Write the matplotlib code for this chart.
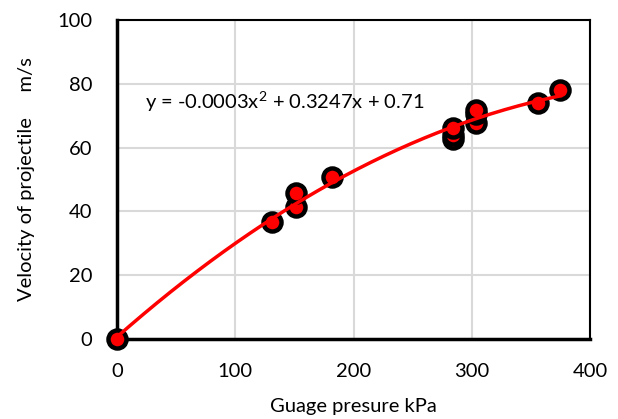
import numpy as np
import matplotlib
matplotlib.use("Agg")
import matplotlib.pyplot as plt
from matplotlib.ticker import MultipleLocator

# data
pressure = [0, 131, 151, 151, 182, 284, 284, 284, 304, 304, 304, 356, 375]
velocity = [0, 36.7, 41.4, 45.8, 50.8, 62.8, 64.0, 66.3, 67.6, 70.5, 71.8, 74.0, 78.1]
eq_text = "y = -0.0003x$^2$ + 0.3247x + 0.71"

plt.rcParams['font.family'] = ['Lato', 'DejaVu Sans']
plt.rcParams['mathtext.fontset'] = 'custom'
plt.rcParams['mathtext.rm'] = 'Lato'

fs = 14.5

fig = plt.figure(figsize=(6.18, 4.19), dpi=100)
ax = fig.add_axes([117/618, 1 - 339/419, (590 - 117)/618, (339 - 20)/419])

# quadratic trend line fitted to the points
coef = np.polyfit(pressure, velocity, 2)
xf = np.linspace(0, max(pressure), 200)
ax.plot(xf, np.polyval(coef, xf), color='red', linewidth=2.5, zorder=4,
        clip_on=False)

ax.plot(pressure, velocity, linestyle='none', marker='o', markersize=13,
        markerfacecolor='red', markeredgecolor='black', markeredgewidth=3.2,
        zorder=3, clip_on=False)

ax.set_xlim(0, 400)
ax.set_ylim(0, 100)
ax.xaxis.set_major_locator(MultipleLocator(100))
ax.yaxis.set_major_locator(MultipleLocator(20))
ax.grid(True, color='#d9d9d9', linewidth=1.5)
ax.set_axisbelow(True)

for s in ax.spines.values():
    s.set_linewidth(1.5)
    s.set_color('black')
    s.set_zorder(2)
ax.spines['left'].set_linewidth(2.5)
ax.spines['bottom'].set_linewidth(2.5)

ax.tick_params(axis='x', length=0, labelsize=fs, pad=17, labelcolor='black')
ax.tick_params(axis='y', length=0, labelsize=fs, pad=18, labelcolor='black')

ax.set_xlabel("Guage presure kPa", fontsize=fs, labelpad=13)
ax.set_ylabel("Velocity of projectile     m/s", fontsize=fs, labelpad=16)

ax.text(145/618, 1 - 102/419, eq_text, transform=fig.transFigure,
        fontsize=fs, va='center', ha='left')

fig.savefig("out.png", dpi=100)
